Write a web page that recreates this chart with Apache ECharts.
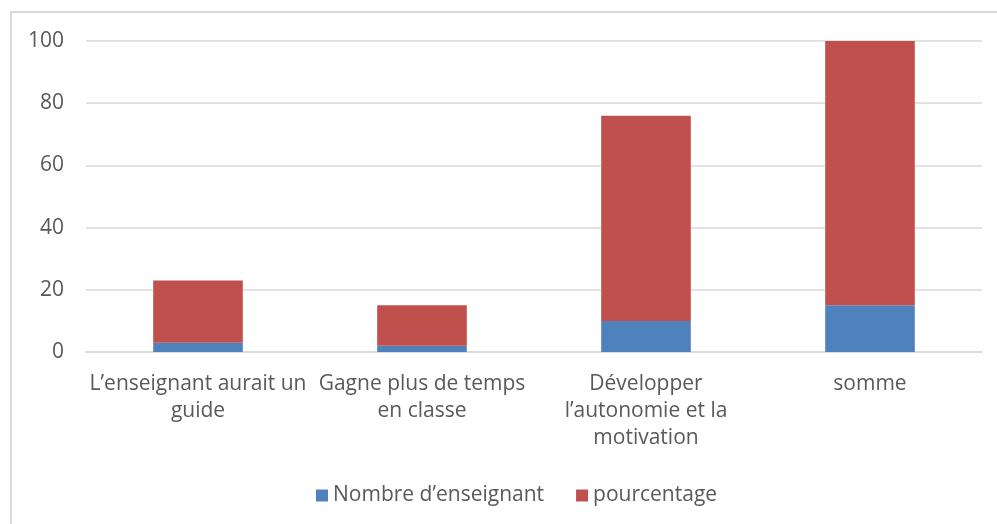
<!DOCTYPE html>
<html>
<head>
<meta charset="utf-8">
<script src="https://cdn.jsdelivr.net/npm/echarts@6/dist/echarts.min.js"></script>
<style>
html,body{margin:0;padding:0;background:#fff;}
#frame{position:absolute;left:10px;top:11px;width:1000px;height:520px;border-left:2px solid #d9d9d9;border-top:2px solid #d9d9d9;}
#chart{position:absolute;left:0;top:0;width:997px;height:524px;}
</style>
</head>
<body>
<div id="frame"></div>
<div id="chart"></div>
<script>
const categories = ["L\u2019enseignant aurait un\nguide", "Gagne plus de temps\nen classe", "D\u00e9velopper\nl\u2019autonomie et la\nmotivation", "somme"];
const seriesNames = ["Nombre d\u2019enseignant", "pourcentage"];
const nombre = [3, 2, 10, 15];
const pourcentage = [20, 13, 66, 85];
const yTicks = [0, 20, 40, 60, 80, 100];

const font = "Open Sans";
const fs = 21;
const chart = echarts.init(document.getElementById('chart'));
chart.setOption({
  animation: false,
  backgroundColor: 'transparent',
  grid: {left: 86, right: 15, top: 41, bottom: 172, containLabel: false},
  legend: {
    top: 480, left: 311, itemWidth: 12, itemHeight: 12, itemGap: 32, icon: 'rect',
    textStyle: {fontFamily: font, fontSize: fs, color: '#595959'},
    data: seriesNames
  },
  xAxis: {
    type: 'category', data: categories,
    axisLine: {show: true, lineStyle: {color: '#d9d9d9', width: 1.5}},
    axisTick: {show: false},
    axisLabel: {fontFamily: font, fontSize: fs, color: '#595959', lineHeight: 27, margin: 19, interval: 0}
  },
  yAxis: {
    type: 'value', min: yTicks[0], max: yTicks[yTicks.length-1], interval: 20,
    axisLine: {show: false}, axisTick: {show: false},
    splitLine: {lineStyle: {color: '#d9d9d9', width: 1.5}},
    axisLabel: {fontFamily: font, fontSize: fs, color: '#595959', margin: 22}
  },
  series: [
    {name: seriesNames[0], type: 'bar', stack: 's', data: nombre, barWidth: '40%',
     itemStyle: {color: '#4f81bd'}},
    {name: seriesNames[1], type: 'bar', stack: 's', data: pourcentage, barWidth: '40%',
     itemStyle: {color: '#c0504d'}}
  ]
});
</script>
</body>
</html>
